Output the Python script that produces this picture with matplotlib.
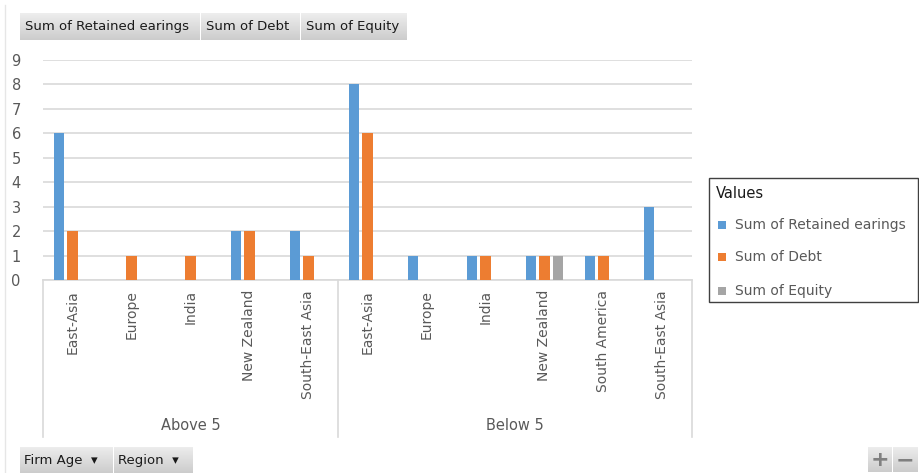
import numpy as np
import matplotlib
matplotlib.use("Agg")
import matplotlib.pyplot as plt
from matplotlib.patches import Rectangle
from matplotlib.transforms import blended_transform_factory

# ---- data ----
groups = ["Above 5", "Below 5"]
regions_above = ["East-Asia", "Europe", "India", "New Zealand", "South-East Asia"]
regions_below = ["East-Asia", "Europe", "India", "New Zealand", "South America", "South-East Asia"]
series_names = ["Sum of Retained earings", "Sum of Debt", "Sum of Equity"]
retained = [6, 0, 0, 2, 2, 8, 1, 1, 1, 1, 3]
debt = [2, 1, 1, 2, 1, 6, 0, 1, 1, 1, 0]
equity = [0, 0, 0, 0, 0, 0, 0, 0, 1, 0, 0]
yticks = list(range(0, 10))
colors = ["#5B9BD5", "#ED7D31", "#A5A5A5"]

W, H = 920, 473
fig = plt.figure(figsize=(W / 100, H / 100), dpi=100)
fig.patch.set_facecolor("white")

def px_rect(x0, y0, x1, y1):
    # pixel coords from top-left -> figure fraction [l, b, w, h]
    return [x0 / W, 1 - y1 / H, (x1 - x0) / W, (y1 - y0) / H]

ax = fig.add_axes(px_rect(43, 60, 692, 280))
labels = regions_above + regions_below
x = np.arange(len(labels))
bw = 0.17
step = 0.225
for i, (vals, c) in enumerate(zip([retained, debt, equity], colors)):
    ax.bar(x + (i - 1) * step, vals, width=bw, color=c, zorder=3, linewidth=0)

ax.set_xlim(-0.5, len(labels) - 0.5)
ax.set_ylim(0, 9)
ax.set_yticks(yticks)
ax.set_yticklabels([str(t) for t in yticks])
ax.tick_params(axis="y", length=0, pad=16, labelsize=10.5, labelcolor="#595959")
ax.tick_params(axis="x", length=0, labelbottom=False)
ax.grid(axis="y", color="#D9D9D9", linewidth=1.2, zorder=0)
for s in ["top", "right", "left"]:
    ax.spines[s].set_visible(False)
ax.spines["bottom"].set_color("#D9D9D9")
ax.spines["bottom"].set_linewidth(1.2)
ax.set_facecolor("white")

tr = blended_transform_factory(ax.transData, ax.transAxes)
for xi, lab in zip(x, labels):
    ax.text(xi, -0.045, lab, rotation=90, ha="center", va="top", transform=tr,
            fontsize=10, color="#595959")

# group separators
nA = len(regions_above)
sep_x = [-0.5, nA - 0.5, len(labels) - 0.5]
ybot = (280 - 437) / 220.0
for sx in sep_x:
    ax.plot([sx, sx], [0, ybot], transform=tr, color="#D9D9D9", linewidth=1.2, clip_on=False)
centers = [(sep_x[0] + sep_x[1]) / 2, (sep_x[1] + sep_x[2]) / 2]
for cx, g in zip(centers, groups):
    ax.text(cx, (280 - 425) / 220.0, g, ha="center", va="center", transform=tr,
            fontsize=10.5, color="#595959")

# chart left border
fig.add_artist(plt.Line2D([5 / W, 5 / W], [1 - 5 / H, 0], color="#E6E6E6", linewidth=1))

# gradient buttons
grad = np.linspace(0.93, 0.80, 50).reshape(-1, 1)
def button(x0, y0, x1, y1, text, fs=9.5, tx=None):
    bax = fig.add_axes(px_rect(x0, y0, x1, y1))
    bax.imshow(grad, cmap="gray", vmin=0, vmax=1, aspect="auto", extent=[0, 1, 0, 1])
    bax.set_axis_off()
    fig.text((x0 + (tx if tx is not None else 5)) / W, 1 - ((y0 + y1) / 2) / H, text,
             ha="left", va="center", fontsize=fs, color="#1a1a1a")

top_buttons = [(20, 13, 200, 40, series_names[0]), (201, 13, 300, 40, series_names[1]),
               (301, 13, 407, 40, series_names[2])]
for b in top_buttons:
    button(*b)

button(20, 447, 113, 473, "Firm Age  ▾", fs=9.5, tx=4)
button(114, 447, 193, 473, "Region  ▾", fs=9.5, tx=4)
button(868, 447, 892, 472, "", fs=1)
button(893, 447, 918, 472, "", fs=1)
fig.text(880 / W, 1 - 460 / H, "+", ha="center", va="center", fontsize=16, color="#808080", fontweight="bold")
fig.text(905 / W, 1 - 460 / H, "−", ha="center", va="center", fontsize=16, color="#808080", fontweight="bold")

# legend box
fig.add_artist(Rectangle((709 / W, 1 - 302 / H), (918 - 709) / W, (302 - 178) / H,
                         transform=fig.transFigure, facecolor="white", edgecolor="#404040", linewidth=1))
hax = fig.add_axes(px_rect(711, 180, 916, 205))
hax.imshow(grad, cmap="gray", vmin=0, vmax=1, aspect="auto", extent=[0, 1, 0, 1])
hax.set_axis_off()
fig.text(716 / W, 1 - 193 / H, "Values", ha="left", va="center", fontsize=10.5, color="#1a1a1a")
leg_y = [225, 257, 291]
for name, c, ly in zip(series_names, colors, leg_y):
    fig.add_artist(Rectangle((718 / W, 1 - (ly + 4) / H), 8 / W, 8 / H,
                             transform=fig.transFigure, facecolor=c, edgecolor="none"))
    fig.text(735 / W, 1 - ly / H, name, ha="left", va="center", fontsize=10, color="#595959")

fig.savefig("out.png", dpi=100)
